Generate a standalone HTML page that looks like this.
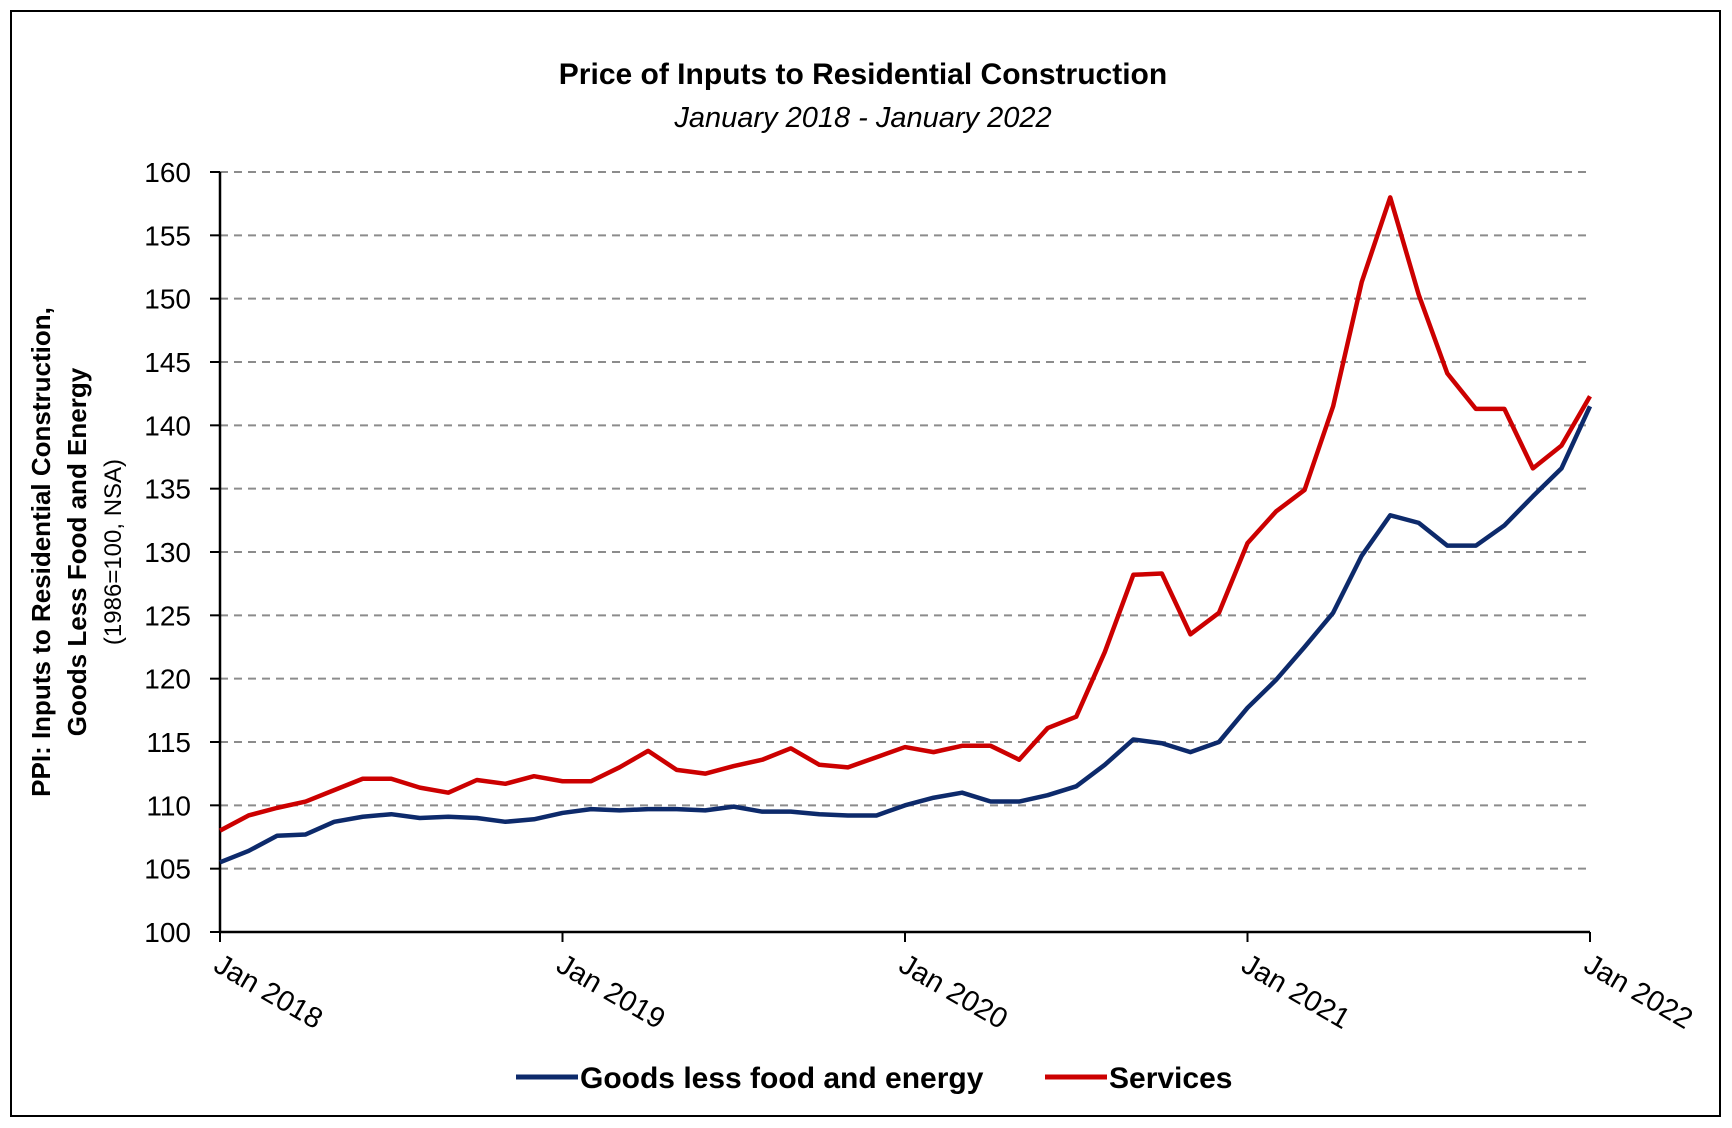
<!DOCTYPE html>
<html><head><meta charset="utf-8"><style>
html,body{margin:0;padding:0;background:#fff;}
svg{display:block;font-family:"Liberation Sans",sans-serif;}
</style></head><body>
<svg id="chart" width="1732" height="1128" viewBox="0 0 1732 1128">
<rect x="11" y="11" width="1709" height="1105" fill="#fff" stroke="#000" stroke-width="2"/>
<text x="863" y="84" text-anchor="middle" font-size="30" font-weight="bold">Price of Inputs to Residential Construction</text>
<text x="863" y="127" text-anchor="middle" font-size="29" font-style="italic">January 2018 - January 2022</text>
<g id="grid"></g>
<g id="yticks"></g>
<g id="xticks"></g>
<g id="series"></g>
<g font-weight="bold" font-size="26">
<text transform="translate(50,552) rotate(-90)" text-anchor="middle">PPI: Inputs to Residential Construction,</text>
<text transform="translate(86,552) rotate(-90)" text-anchor="middle">Goods Less Food and Energy</text>
<text transform="translate(121,552) rotate(-90)" text-anchor="middle" font-weight="normal" font-size="24">(1986=100, NSA)</text>
</g>
<g>
<g>
<line x1="516" y1="1077" x2="578" y2="1077" stroke="#0d2a6b" stroke-width="5"/>
<text x="580" y="1088" font-size="30" font-weight="bold">Goods less food and energy</text>
</g>
<g>
<line x1="1045" y1="1077" x2="1107" y2="1077" stroke="#cc0000" stroke-width="5"/>
<text x="1109" y="1088" font-size="30" font-weight="bold">Services</text>
</g>
</g>
</svg>
<script>
const months = 49;
const yTicks = [100,105,110,115,120,125,130,135,140,145,150,155,160];
const xTickLabels = ["Jan 2018","Jan 2019","Jan 2020","Jan 2021","Jan 2022"];
const xTickIdx = [0,12,24,36,48];
const goods = [105.5,106.4,107.6,107.7,108.7,109.1,109.3,109.0,109.1,109.0,108.7,108.9,109.4,109.7,109.6,109.7,109.7,109.6,109.9,109.5,109.5,109.3,109.2,109.2,110.0,110.6,111.0,110.3,110.3,110.8,111.5,113.2,115.2,114.9,114.2,115.0,117.7,119.9,122.5,125.2,129.7,132.9,132.3,130.5,130.5,132.1,134.4,136.6,141.5];
const services = [108.0,109.2,109.8,110.3,111.2,112.1,112.1,111.4,111.0,112.0,111.7,112.3,111.9,111.9,113.0,114.3,112.8,112.5,113.1,113.6,114.5,113.2,113.0,113.8,114.6,114.2,114.7,114.7,113.6,116.1,117.0,122.1,128.2,128.3,123.5,125.2,130.7,133.2,134.9,141.5,151.3,158.0,150.3,144.1,141.3,141.3,136.6,138.4,142.3];
const X0=220,X1=1590,Y0=932,Y1=172;
const xs=i=>X0+(X1-X0)*i/(months-1);
const ys=v=>Y0-(Y0-Y1)*(v-100)/60;
const NS="http://www.w3.org/2000/svg";
function mk(t,a,p){const e=document.createElementNS(NS,t);for(const k in a)e.setAttribute(k,a[k]);p.appendChild(e);return e;}
const grid=document.getElementById('grid'),yt=document.getElementById('yticks'),xt=document.getElementById('xticks'),ser=document.getElementById('series');
yTicks.forEach(v=>{
 if(v>100){const g=mk('line',{x1:X0,x2:X1,y1:ys(v),y2:ys(v),stroke:'#8c8c8c','stroke-width':2,'stroke-dasharray':'8,6'},grid);
 
 }
 mk('line',{x1:X0-10,x2:X0,y1:ys(v),y2:ys(v),stroke:'#000','stroke-width':2},yt);
 const t=mk('text',{x:191,y:ys(v)+10,'text-anchor':'end','font-size':28},yt);t.textContent=v;
 
 
});
mk('line',{x1:X0,x2:X0,y1:Y1,y2:Y0,stroke:'#000','stroke-width':2.5},yt);
mk('line',{x1:X0,x2:X1,y1:Y0,y2:Y0,stroke:'#000','stroke-width':2.5},xt);
xTickIdx.forEach((idx,k)=>{
 const x=xs(idx);
 mk('line',{x1:x,x2:x,y1:Y0,y2:Y0+10,stroke:'#000','stroke-width':2},xt);
 const t=mk('text',{transform:`translate(${x-8},${Y0+38}) rotate(30)`,'font-size':29},xt);t.textContent=xTickLabels[k];
 
 
});
function line(d,c,n){const p=mk('polyline',{points:d.map((v,i)=>xs(i)+','+ys(v)).join(' '),fill:'none',stroke:c,'stroke-width':4.5,'stroke-linejoin':'round'},ser);
 
 }
line(goods,'#0d2a6b','goods-line');
line(services,'#cc0000','services-line');
</script>
</body></html>
